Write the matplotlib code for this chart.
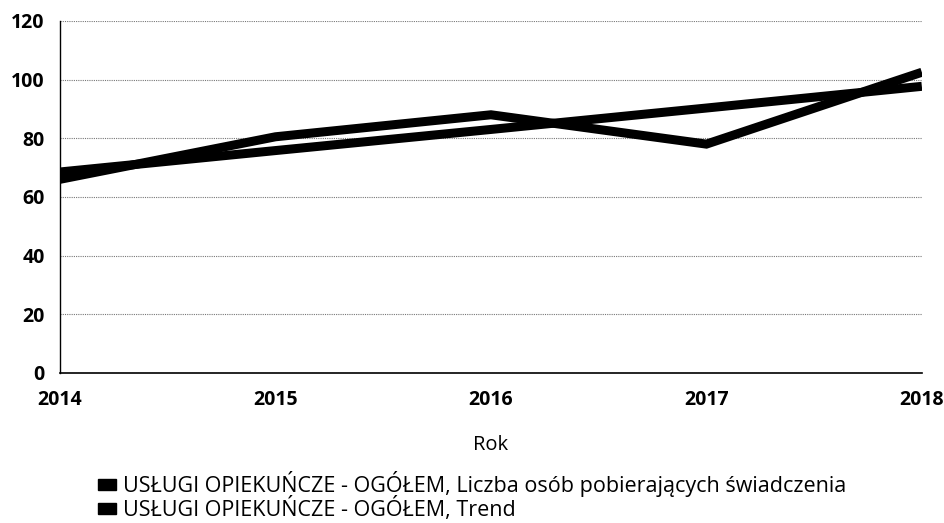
import matplotlib
matplotlib.use("Agg")
import matplotlib.pyplot as plt
from matplotlib.patches import Rectangle

years = [2014, 2015, 2016, 2017, 2018]
values = [66, 80.5, 88, 78, 102.5]
trend = [68.5, 75.8, 83, 90.3, 97.7]
yticks = [0, 20, 40, 60, 80, 100, 120]
labels = ["USŁUGI OPIEKUŃCZE - OGÓŁEM, Liczba osób pobierających świadczenia",
          "USŁUGI OPIEKUŃCZE - OGÓŁEM, Trend"]

plt.rcParams['font.family'] = ['Open Sans', 'DejaVu Sans']

fig = plt.figure(figsize=(9.45, 5.23), dpi=100)
ax = fig.add_axes([0.0635, 0.287, 0.912, 0.673])

ax.plot(years, values, color='black', lw=6.5, solid_capstyle='butt', solid_joinstyle='miter')
ax.plot(years, trend, color='black', lw=6.5, solid_capstyle='butt', solid_joinstyle='miter')

ax.set_xlim(2014, 2018)
ax.set_ylim(0, 120)
ax.set_yticks(yticks)
ax.set_xticks(years)
ax.set_xticklabels([str(y) for y in years], fontsize=14, fontweight='bold')
ax.set_yticklabels([str(v) for v in yticks], fontsize=14, fontweight='bold')
ax.tick_params(axis='both', length=0)
ax.tick_params(axis='y', pad=11)
ax.tick_params(axis='x', pad=12)
ax.grid(axis='y', linestyle=(0, (1, 1)), color='#777777', lw=0.8)
ax.set_axisbelow(True)
for s in ['top', 'right']:
    ax.spines[s].set_visible(False)
ax.spines['left'].set_linewidth(1.0)
ax.spines['bottom'].set_linewidth(1.2)

ax.set_xlabel("Rok", fontsize=14.5, labelpad=18)

handles = [Rectangle((0, 0), 1, 1, color='black') for _ in labels]
fig.legend(handles, labels, loc='upper left', bbox_to_anchor=(0.104, 0.099),
           frameon=False, fontsize=15.5, handlelength=0.8, handleheight=0.4,
           handletextpad=0.35, labelspacing=0.0, borderaxespad=0, borderpad=0)

fig.savefig("out.png", dpi=100)
